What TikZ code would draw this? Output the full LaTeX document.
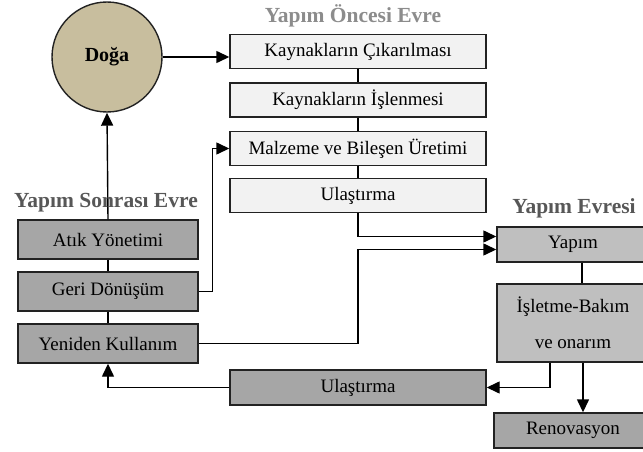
\documentclass[tikz,border=0pt]{standalone}
\usepackage{fontspec}
\setmainfont{Liberation Serif}
\usepackage{tikz}
\usetikzlibrary{arrows.meta}
\usetikzlibrary{shapes,fit,calc}

\definecolor{dogafill}{HTML}{C8BE9E}
\definecolor{prefill}{HTML}{F2F2F2}
\definecolor{postfill}{HTML}{A6A6A6}
\definecolor{buildfill}{HTML}{BFBFBF}
\definecolor{edgegray}{HTML}{222222}
\definecolor{titlelight}{HTML}{8C8C8C}
\definecolor{titledark}{HTML}{575757}

\begin{document}
\begin{tikzpicture}[x=1pt, y=-1pt]
    \tikzstyle{title} = [
      anchor=center,
      align=center,
      font=\fontsize{21.5}{24}\selectfont\bfseries,
    ]
    \tikzstyle{arrow} = [
      line width=1.4pt,
      ->,
      >={Triangle[length=13pt, width=12pt]},
      draw=black,
    ]
    \tikzstyle{link} = [
      line width=1.4pt,
      draw=black,
    ]
    \tikzstyle{phase} = [
      anchor=center,
      align=center,
      draw=edgegray,
      line width=1.4pt,
      font=\fontsize{19}{22}\selectfont,
      inner sep=0pt,
    ]
    \tikzstyle{pre} = [
      phase,
      fill=prefill,
      minimum width=256pt,
      minimum height=34pt,
    ]
    \tikzstyle{post} = [
      phase,
      fill=postfill,
      minimum width=180pt,
      minimum height=39pt,
    ]
    \tikzstyle{build} = [
      phase,
      fill=buildfill,
      minimum width=152pt,
      minimum height=35pt,
    ]

    \newcommand{\prestep}[0]{48.5}
    \newcommand{\poststep}[0]{52}

    \useasboundingbox (0,0) rectangle (643,452);

    \coordinate (preAnchor)  at (358,51.5);
    \coordinate (postAnchor) at (108,239.5);
    \coordinate (buildAnchor) at (573,244.5);

    % doga
    {
      \node[circle, draw=edgegray, line width=1.4pt, fill=dogafill, minimum size=110pt,
        font=\fontsize{20}{24}\selectfont\bfseries] (doga) at (107,57) {Doğa};
    }

    % pre-construction
    {
      \node[title, text=titlelight] (preTitle) at (353,16) {Yapım Öncesi Evre};
      \node[pre] (kaynakCikar) at (preAnchor) {Kaynakların Çıkarılması};
      \node[pre] (kaynakIsle)  at ([yshift=-\prestep] kaynakCikar) {Kaynakların İşlenmesi};
      \node[pre] (malzeme)     at ([yshift=-\prestep] kaynakIsle) {Malzeme ve Bileşen Üretimi};
      \node[pre] (ulasUst)     at ([yshift=-\prestep+1.5] malzeme) {Ulaştırma};

      \draw[link] (kaynakCikar) -- (kaynakIsle);
      \draw[link] (kaynakIsle) -- (malzeme);
      \draw[link] (malzeme) -- (ulasUst);
    }

    % construction
    {
      \node[title, text=titledark] (buildTitle) at (574,208) {Yapım Evresi};
      \node[build] (yapim) at (buildAnchor) {Yapım};
      \node[build, minimum height=78pt, font=\fontsize{19}{36}\selectfont] (isletme)
        at ([yshift=-78.5] yapim) {İşletme-Bakım\\ve onarım};
      \node[build, fill=postfill, minimum width=158pt] (renovasyon)
        at (573,430.5) {Renovasyon};

      \draw[link] ([xshift=9pt] yapim.south) -- ([xshift=9pt] isletme.north);
      \draw[arrow] ([xshift=10pt] isletme.south) -- ([xshift=10pt] isletme.south |- renovasyon.north);
    }

    % post-construction
    {
      \node[post] (atik)   at (postAnchor) {Atık Yönetimi};
      \node[post] (geri)   at ([yshift=-\poststep] atik) {Geri Dönüşüm};
      \node[post] (yeniden) at ([yshift=-\poststep] geri) {Yeniden Kullanım};
      \node[pre, fill=postfill, minimum height=35pt] (ulasAlt) at (358,387.5) {Ulaştırma};

      \draw[link] (atik) -- (geri);
      \draw[link] (geri) -- (yeniden);
      \draw[arrow] (atik.north) -- (doga.south);
      \node[title, text=titledark] (postTitle) at (106,203) {Yapım Sonrası Evre};
    }

    % flows
    {
      \draw[arrow] (doga.east) -- (doga.east -| kaynakCikar.west);
      \draw[arrow] (ulasUst.south) |- ([yshift=8pt] yapim.west);
      \draw[arrow] (yeniden.east) -- (yeniden.east -| ulasUst.south) |- ([yshift=-5pt] yapim.west);
      \draw[arrow] (geri.east) -- ++(14,0) |- (malzeme.west);
      \draw[arrow] ([xshift=-23pt] isletme.south) |- (ulasAlt.east);
      \draw[arrow] (ulasAlt.west) -| (yeniden.south);
    }
  \end{tikzpicture}
\end{document}
